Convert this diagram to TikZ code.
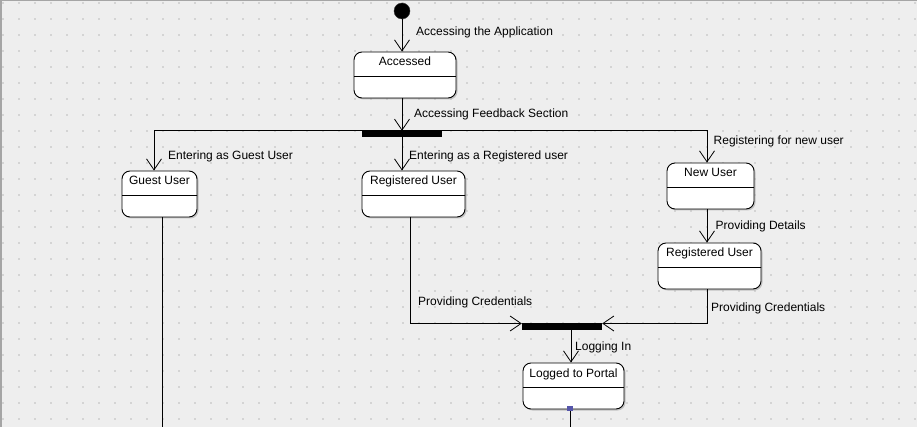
\documentclass[tikz,border=0pt]{standalone}
\usepackage{fontspec}
\setmainfont{Liberation Sans}
\usepackage{tikz}
\usetikzlibrary{arrows.meta, calc, shadows}
\definecolor{canvasGray}{RGB}{238, 238, 238}
\definecolor{gridDot}{RGB}{212, 212, 212}
\definecolor{frameGray}{RGB}{165, 165, 165}
\definecolor{handleBlue}{RGB}{85, 85, 170}

\begin{document}
\begin{tikzpicture}[x=1pt, y=-1pt, line cap=round,
		line/.style={black, line width=0.9pt},
		trans/.style={line, -{Straight Barb[length=11pt, width=15pt, line width=0.8pt]}},
		lbl/.style={font=\fontsize{12}{14}\selectfont, inner sep=0pt, anchor=base west},
		state/.style={draw, line width=0.9pt, fill=white, rounded corners=8pt,
			minimum height=46pt, inner ysep=4.5pt, text height=9.5pt, text depth=27.5pt,
			font=\fontsize{12}{14}\selectfont,
			drop shadow={shadow xshift=1.5pt, shadow yshift=-1.5pt, fill=black!35, opacity=0.6},
			path picture={\draw[line] ([yshift=-1pt]path picture bounding box.west) -- ([yshift=-1pt]path picture bounding box.east);}},
		bar/.style={fill=black, inner sep=0pt, minimum width=80pt},
		handle/.style={fill=handleBlue, inner sep=0pt, minimum size=5.5pt}
	]

	% canvas
	\useasboundingbox (0,0) rectangle (917,427);
	\fill[canvasGray] (0,0) rectangle (917,427);
	\foreach \i in {0,...,57}
		\foreach \j in {0,...,26}
			\fill[gridDot] (2+16*\i, 2+16*\j) rectangle ++(2,2);
	\draw[frameGray, line width=1.5pt] (0.75,427) -- (0.75,0.75) -- (917,0.75);

	\node[circle, fill=black, draw=black!80, minimum size=16pt, inner sep=0pt] (start) at (402,11) {};

	\node[state, minimum width=102pt] (accessed) at (405,75) {Accessed};
	\node[bar, minimum height=6pt] (fork) at (402,134) {};

	\node[state, minimum width=75pt] (guest) at (159.5,194) {Guest User};
	\node[state, minimum width=103pt] (reg) at (413.5,194) {Registered User};
	\node[state, minimum width=87pt] (newuser) at (710.5,186) {New User};
	\node[state, minimum width=103pt] (regnew) at (709.5,266) {Registered User};

	\node[bar, minimum height=7pt] (join) at (562,326.5) {};
	\node[state, minimum width=101pt] (logged) at (573.5,386) {Logged to Portal};

	\draw[trans] (start) -- (start |- accessed.north);
	\draw[trans] (start |- accessed.south) -- (fork.north);
	\draw[trans] (fork.north) -| ([xshift=-5.5pt]guest.north);
	\draw[trans] (fork.south) -- (fork.south |- reg.north);
	\draw[trans] (fork.north) -| ([xshift=-3.5pt]newuser.north);
	\draw[trans] ([xshift=-3.5pt]newuser.south) -- ([xshift=-2.5pt]regnew.north);
	\draw[trans] ([xshift=-3.5pt]reg.south) |- ([yshift=3pt]join.west);
	\draw[trans] ([xshift=-2.5pt]regnew.south) |- ([yshift=3pt]join.east);
	\draw[trans] ([xshift=9pt]join.south) -- ([xshift=-2.5pt]logged.north);

	\draw[line] ([xshift=2.5pt]guest.south) -- ++(0,212);
	\draw[line] ([xshift=-3.5pt]logged.south) -- ++(0,20);
	\node[handle] (grip) at ([xshift=-3.5pt, yshift=1pt]logged.south) {};

	\node[lbl] (lblApp) at (416,35.5) {Accessing the Application};
	\node[lbl] (lblFeed) at (414,118) {Accessing Feedback Section};
	\node[lbl] (lblGuest) at (168,160) {Entering as Guest User};
	\node[lbl] (lblReg) at (409,159.5) {Entering as a Registered user};
	\node[lbl] (lblNew) at (713.5,144.5) {Registering for new user};
	\node[lbl] (lblDet) at (715.5,229.5) {Providing Details};
	\node[lbl] (lblCredA) at (418,305.5) {Providing Credentials};
	\node[lbl] (lblCredB) at (711,311.5) {Providing Credentials};
	\node[lbl] (lblLog) at (575,350.5) {Logging In};

\end{tikzpicture}
\end{document}
